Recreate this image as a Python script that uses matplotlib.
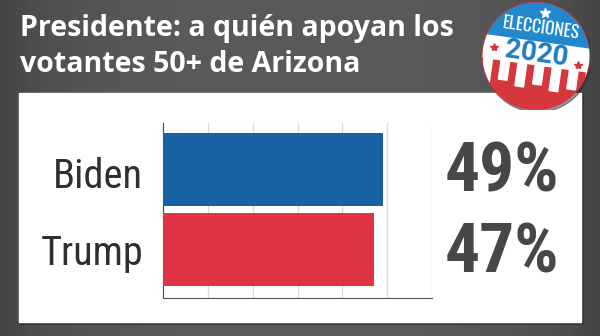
import matplotlib.pyplot as plt
import numpy as np
from matplotlib.patches import Rectangle, Circle
from matplotlib.transforms import Affine2D

candidates = ["Biden", "Trump"]
support = [49, 47]
bar_colors = ["#1862a3", "#e03346"]
title = "Presidente: a quién apoyan los\nvotantes 50+ de Arizona"
badge_top = "ELECCIONES"
badge_year = "2020"

# condensed faces first, stock families as fallback
NARROW = ["Roboto Condensed", "Roboto", "DejaVu Sans"]
HEAD = ["Open Sans", "Lato", "DejaVu Sans"]
BADGE = ["Oswald", "Roboto Condensed", "DejaVu Sans"]

W, H = 600, 336
fig = plt.figure(figsize=(W / 100, H / 100), dpi=100)


def px_box(x0, y0, x1, y1):
    # pixel box (top-left origin) -> figure fraction rect
    return [x0 / W, 1 - y1 / H, (x1 - x0) / W, (y1 - y0) / H]


# dark gray backdrop, a bit darker toward the edges
bg = fig.add_axes([0, 0, 1, 1])
xs = np.linspace(-1, 1, 300)
prof = 0.35 - 0.08 * xs ** 4
bg.imshow(np.tile(prof, (10, 1)), cmap="gray", vmin=0, vmax=1,
          aspect="auto", extent=[0, 1, 0, 1])
bg.set_xlim(0, 1)
bg.set_ylim(0, 1)
bg.axis("off")

# white card behind the chart
bg.add_patch(Rectangle((20 / W, 1 - 324 / H), 563 / W, 230 / H,
                       color="#2e2e2e", alpha=0.5, zorder=2))
bg.add_patch(Rectangle((19 / W, 1 - 322 / H), 562 / W, 229 / H,
                       color="white", zorder=3))

fig.text(20 / W, 1 - 72 / H, title, color="white", fontsize=20.5,
         fontweight="bold", family=HEAD, va="baseline", linespacing=1.3)

ax = fig.add_axes(px_box(163, 123, 432, 298))
ypos = [1, 0]
ax.barh(ypos, support, height=0.91, color=bar_colors, zorder=3)
ax.set_xlim(0, 60)
ax.set_ylim(-0.606, 1.58)
ax.set_xticks(range(10, 61, 10))
ax.set_yticks([])
ax.tick_params(axis="x", length=0, labelbottom=False)
ax.grid(axis="x", color="#dcdcdc", linewidth=1, zorder=0)
ax.set_facecolor("none")
for side in ("top", "right"):
    ax.spines[side].set_visible(False)
ax.spines["left"].set_color("#444444")
ax.spines["bottom"].set_color("#555555")

name_off = [-18.5, -15.5]
pct_off = [-22.5, -23.5]
for y, name, val, no, po in zip(ypos, candidates, support, name_off, pct_off):
    ax.annotate(name, xy=(0, y), xytext=(-20, no), textcoords="offset pixels",
                ha="right", va="baseline", fontsize=29, color="#2f2f2f",
                fontweight="normal", family=NARROW)
    ax.annotate(f"{val}%", xy=(60, y), xytext=(13, po),
                textcoords="offset pixels", ha="left", va="baseline",
                fontsize=50, fontweight="bold", color="#474747", family=NARROW)

# campaign badge in the top right corner
bax = fig.add_axes(px_box(482, 2, 590, 110))
bax.set_xlim(-1, 1)
bax.set_ylim(-1, 1)
bax.set_aspect("equal")
bax.axis("off")
rot = Affine2D().rotate_deg(-8) + bax.transData

bax.add_patch(Circle((0.03, -0.04), 1.0, color="#303030", alpha=0.5))
disc = Circle((0, 0), 0.99, color="#d6373d", transform=rot)
bax.add_patch(disc)
for patch in [Rectangle((-1.2, 0.26), 2.4, 1.0, color="#2388cb"),
              Rectangle((-1.2, -0.16), 2.4, 0.42, color="white")]:
    patch.set_transform(rot)
    patch.set_clip_path(disc)
    bax.add_patch(patch)
for i, x0 in enumerate(np.arange(-0.95, 1.0, 0.32)):
    depth = 0.44 if i % 2 == 0 else 0.36
    stripe = Rectangle((x0, -0.16 - depth), 0.16, depth, color="white",
                       transform=rot)
    stripe.set_clip_path(disc)
    bax.add_patch(stripe)

bax.text(0.02, 0.52, badge_top, transform=rot, rotation=-8, ha="center",
         va="center", color="white", fontsize=12.5, fontweight="bold",
         family=BADGE)
bax.text(0.0, 0.04, badge_year, transform=rot, rotation=-8, ha="center",
         va="center", color="#1f7fc0", fontsize=20, fontweight="bold",
         family=["Roboto", "DejaVu Sans"])
bax.plot([-0.8, 0.8], [0.05, -0.05], "*", color="#d6373d", ms=6,
         transform=rot)
bax.plot([0.05], [0.82], "*", color="white", ms=7, transform=rot)

fig.savefig("out.png", dpi=100)
